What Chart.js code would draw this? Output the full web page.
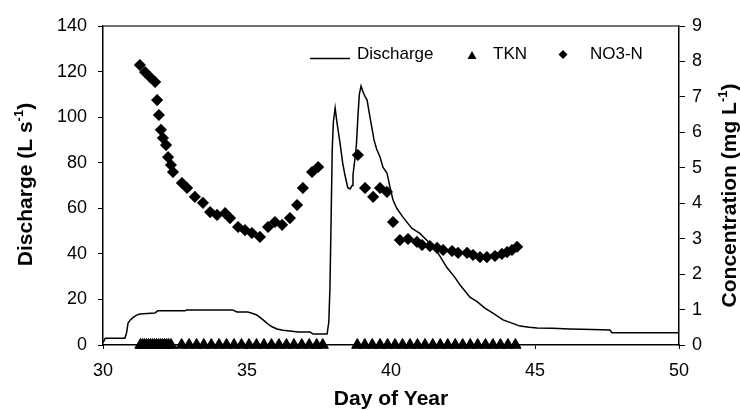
<!DOCTYPE html>
<html>
<head>
<meta charset="utf-8">
<script src="https://cdn.jsdelivr.net/npm/chart.js@4.4.1/dist/chart.umd.min.js"></script>
<style>
  html, body { margin: 0; padding: 0; background: #fff; }
  #wrap { width: 740px; height: 410px; }
</style>
</head>
<body>
<div id="wrap"><canvas id="flowChart" width="740" height="410"></canvas></div>
<script>
// Stream discharge (L/s) through the event, by day of year
const dischargeDays = [30.0, 30.08, 30.76, 30.82, 30.87, 30.95, 31.04, 31.15, 31.28, 31.8, 31.9, 32.85, 32.9, 34.5, 34.65,
  35.03, 35.2, 35.34, 35.56, 35.72, 35.87, 36.04, 36.25, 36.49, 36.77, 37.19, 37.3, 37.78, 37.84, 37.88, 37.92, 37.96,
  38.0, 38.06, 38.12, 38.23, 38.32, 38.4, 38.5, 38.58, 38.65, 38.68, 38.75, 38.8, 38.85, 38.9, 38.96, 39.03, 39.1,
  39.17, 39.27, 39.41, 39.5, 39.62, 39.72, 39.86, 39.97, 40.07, 40.2, 40.42, 40.72, 41.0, 41.35, 41.63, 41.94, 42.2,
  42.4, 42.74, 42.99, 43.26, 43.54, 43.89, 44.2, 44.48, 44.8, 45.07, 45.6, 46.2, 47.0, 47.6, 47.67, 50.0];
const dischargeValues = [1.0, 3.0, 3.0, 5.5, 9.6, 11.0, 12.0, 13.0, 13.6, 14.0, 15.0, 15.0, 15.4, 15.4, 14.5,
  14.5, 13.8, 13.2, 11.0, 9.3, 8.0, 7.0, 6.5, 6.1, 5.7, 5.7, 4.8, 4.8, 10, 25, 55, 86,
  98, 104, 98, 88.6, 80, 74.6, 69, 68.5, 70, 74.6, 82, 88, 100, 110, 113.6, 111, 109,
  107.5, 100, 90, 86, 82.5, 78, 75.5, 69, 63.6, 60, 56, 51.3, 49, 44.7, 40.4, 34, 30,
  26.3, 21, 19, 16.2, 14, 11, 9.6, 8.3, 7.8, 7.5, 7.3, 7.0, 6.8, 6.6, 5.4, 5.4];

// NO3-N samples (mg/L)
const no3Days = [31.28, 31.46, 31.63, 31.81, 31.88, 31.94, 32.01, 32.08, 32.19, 32.26, 32.36, 32.43, 32.74, 32.92,
  33.19, 33.47, 33.72, 33.96, 34.24, 34.41, 34.69, 34.93, 35.17, 35.45, 35.73, 35.97, 36.22, 36.49, 36.74, 36.94,
  37.26, 37.47, 38.85, 39.10, 39.38, 39.62, 39.86, 40.07, 40.31, 40.59, 40.90, 41.08, 41.35, 41.60, 41.81, 42.12,
  42.33, 42.64, 42.85, 43.09, 43.33, 43.61, 43.85, 44.03, 44.20, 44.38];
const no3Values = [7.90, 7.70, 7.56, 7.42, 6.91, 6.49, 6.07, 5.84, 5.64, 5.30, 5.08, 4.88, 4.57, 4.43,
  4.18, 4.01, 3.75, 3.67, 3.72, 3.58, 3.33, 3.24, 3.16, 3.05, 3.33, 3.47, 3.39, 3.58, 3.95, 4.43,
  4.88, 5.02, 5.36, 4.43, 4.18, 4.43, 4.32, 3.47, 2.96, 2.99, 2.91, 2.82, 2.79, 2.74, 2.68, 2.65,
  2.60, 2.60, 2.54, 2.48, 2.48, 2.51, 2.57, 2.62, 2.68, 2.77];

// TKN samples (mg/L) - all at zero
const tknDays = [31.3, 31.37, 31.44, 31.51, 31.58, 31.65, 31.72, 31.79, 31.86, 31.93, 32.0, 32.07, 32.14, 32.21, 32.28, 32.36,
  32.73, 32.99, 33.25, 33.5, 33.76, 34.03, 34.29, 34.55, 34.81, 35.07, 35.33, 35.59, 35.85, 36.11, 36.37, 36.63, 36.9, 37.16, 37.42, 37.63,
  38.83, 39.09, 39.35, 39.62, 39.88, 40.14, 40.4, 40.66, 40.92, 41.18, 41.45, 41.71, 41.97, 42.23, 42.49, 42.75, 43.01, 43.28, 43.54, 43.8, 44.06, 44.32];
const tknValues = [0, 0, 0, 0, 0, 0, 0, 0, 0, 0, 0, 0, 0, 0, 0, 0,
  0, 0, 0, 0, 0, 0, 0, 0, 0, 0, 0, 0, 0, 0, 0, 0, 0, 0, 0, 0,
  0, 0, 0, 0, 0, 0, 0, 0, 0, 0, 0, 0, 0, 0, 0, 0, 0, 0, 0, 0, 0, 0];

// axis ticks
const dayTicks = [30, 35, 40, 45, 50];
const dischargeTicks = [0, 20, 40, 60, 80, 100, 120, 140];
const concTicks = [0, 1, 2, 3, 4, 5, 6, 7, 8, 9];

const FONT = "'Liberation Sans', Arial, Helvetica, sans-serif";

function toPoints(xs, ys) {
  return xs.map((x, i) => ({ x: x, y: ys[i] }));
}

// text made of normal and superscript runs, centred on (cx, cy)
function drawRichText(ctx, parts, cx, cy, rotate, size) {
  ctx.save();
  ctx.translate(cx, cy);
  if (rotate) ctx.rotate(-Math.PI / 2);
  ctx.fillStyle = '#000';
  ctx.textBaseline = 'alphabetic';
  ctx.textAlign = 'left';
  const supSize = Math.round(size * 0.62);
  let total = 0;
  parts.forEach(p => {
    ctx.font = 'bold ' + (p.sup ? supSize : size) + 'px ' + FONT;
    p.w = ctx.measureText(p.text).width;
    total += p.w;
  });
  let x = -total / 2;
  const base = size * 0.36;
  parts.forEach(p => {
    ctx.font = 'bold ' + (p.sup ? supSize : size) + 'px ' + FONT;
    ctx.fillText(p.text, x, p.sup ? base - size * 0.42 : base);
    x += p.w;
  });
  ctx.restore();
}

const titlesPlugin = {
  id: 'axisTitles',
  afterDraw(chart) {
    const { ctx, chartArea } = chart;
    const midY = (chartArea.top + chartArea.bottom) / 2;
    drawRichText(ctx, [{ text: 'Discharge (L s' }, { text: '-1', sup: true }, { text: ')' }],
      24, midY - 1, true, 21);
    drawRichText(ctx, [{ text: 'Concentration (mg L' }, { text: '-1', sup: true }, { text: ')' }],
      728, midY + 10, true, 21);
    drawRichText(ctx, [{ text: 'Day of Year' }],
      (chartArea.left + chartArea.right) / 2, chartArea.bottom + 52, false, 21);
  }
};

// top edge of the plot frame
const framePlugin = {
  id: 'frameTop',
  beforeDatasetsDraw(chart) {
    const { ctx, chartArea } = chart;
    ctx.save();
    ctx.strokeStyle = '#444';
    ctx.lineWidth = 1.5;
    ctx.beginPath();
    ctx.moveTo(chartArea.left, chartArea.top);
    ctx.lineTo(chartArea.right, chartArea.top);
    ctx.stroke();
    ctx.restore();
  }
};

// legend sits inside the plot, upper right
const legendPlugin = {
  id: 'insideLegend',
  afterDraw(chart) {
    const { ctx, chartArea } = chart;
    const x0 = chartArea.left;
    const y = chartArea.top + 33;
    ctx.save();
    ctx.fillStyle = '#000';
    ctx.strokeStyle = '#000';
    ctx.font = '17px ' + FONT;
    ctx.textBaseline = 'alphabetic';

    ctx.lineWidth = 1.5;
    ctx.beginPath();
    ctx.moveTo(x0 + 207, y - 0.5);
    ctx.lineTo(x0 + 247, y - 0.5);
    ctx.stroke();
    ctx.fillText('Discharge', x0 + 254, y);

    ctx.beginPath();
    ctx.moveTo(x0 + 369, y - 8);
    ctx.lineTo(x0 + 373.5, y);
    ctx.lineTo(x0 + 364.5, y);
    ctx.closePath();
    ctx.fill();
    ctx.fillText('TKN', x0 + 390, y);

    ctx.beginPath();
    ctx.moveTo(x0 + 460, y - 9);
    ctx.lineTo(x0 + 464.5, y - 4.5);
    ctx.lineTo(x0 + 460, y);
    ctx.lineTo(x0 + 455.5, y - 4.5);
    ctx.closePath();
    ctx.fill();
    ctx.fillText('NO3-N', x0 + 487, y);
    ctx.restore();
  }
};

const tickFont = { family: FONT, size: 18 };

new Chart(document.getElementById('flowChart'), {
  type: 'scatter',
  data: {
    datasets: [
      {
        label: 'Discharge',
        data: toPoints(dischargeDays, dischargeValues),
        yAxisID: 'y',
        showLine: true,
        borderColor: '#000',
        borderWidth: 1.5,
        pointRadius: 0,
        tension: 0
      },
      {
        label: 'TKN',
        data: toPoints(tknDays, tknValues),
        yAxisID: 'y1',
        pointStyle: 'triangle',
        pointRadius: 6.5,
        backgroundColor: '#000',
        borderColor: '#000',
        borderWidth: 1,
        clip: false
      },
      {
        label: 'NO3-N',
        data: toPoints(no3Days, no3Values),
        yAxisID: 'y1',
        pointStyle: 'rectRot',
        pointRadius: 5.8,
        backgroundColor: '#000',
        borderColor: '#000',
        borderWidth: 0.5
      }
    ]
  },
  options: {
    responsive: false,
    animation: false,
    layout: { padding: { top: 26, left: 0, right: 0, bottom: 0 } },
    plugins: {
      legend: { display: false },
      tooltip: { enabled: false }
    },
    scales: {
      x: {
        type: 'linear',
        min: 30,
        max: 50,
        afterBuildTicks: s => { s.ticks = dayTicks.map(v => ({ value: v })); },
        afterFit: s => { s.height = 65; },
        ticks: { color: '#000', font: tickFont, padding: 11, maxRotation: 0 },
        grid: { drawOnChartArea: false, tickLength: 4, color: '#000' },
        border: { color: '#000', width: 1.5 }
      },
      y: {
        position: 'left',
        min: 0,
        max: 140,
        afterBuildTicks: s => { s.ticks = dischargeTicks.map(v => ({ value: v })); },
        afterFit: s => { s.width = 103; },
        ticks: { color: '#000', font: tickFont, padding: 11 },
        grid: { drawOnChartArea: false, tickLength: 5, color: '#000' },
        border: { color: '#000', width: 1.5 }
      },
      y1: {
        position: 'right',
        min: 0,
        max: 9,
        afterBuildTicks: s => { s.ticks = concTicks.map(v => ({ value: v })); },
        afterFit: s => { s.width = 61; },
        ticks: { color: '#000', font: tickFont, padding: 7 },
        grid: { drawOnChartArea: false, tickLength: 6, color: '#000' },
        border: { color: '#000', width: 1.5 }
      }
    }
  },
  plugins: [framePlugin, legendPlugin, titlesPlugin]
});
</script>
</body>
</html>
